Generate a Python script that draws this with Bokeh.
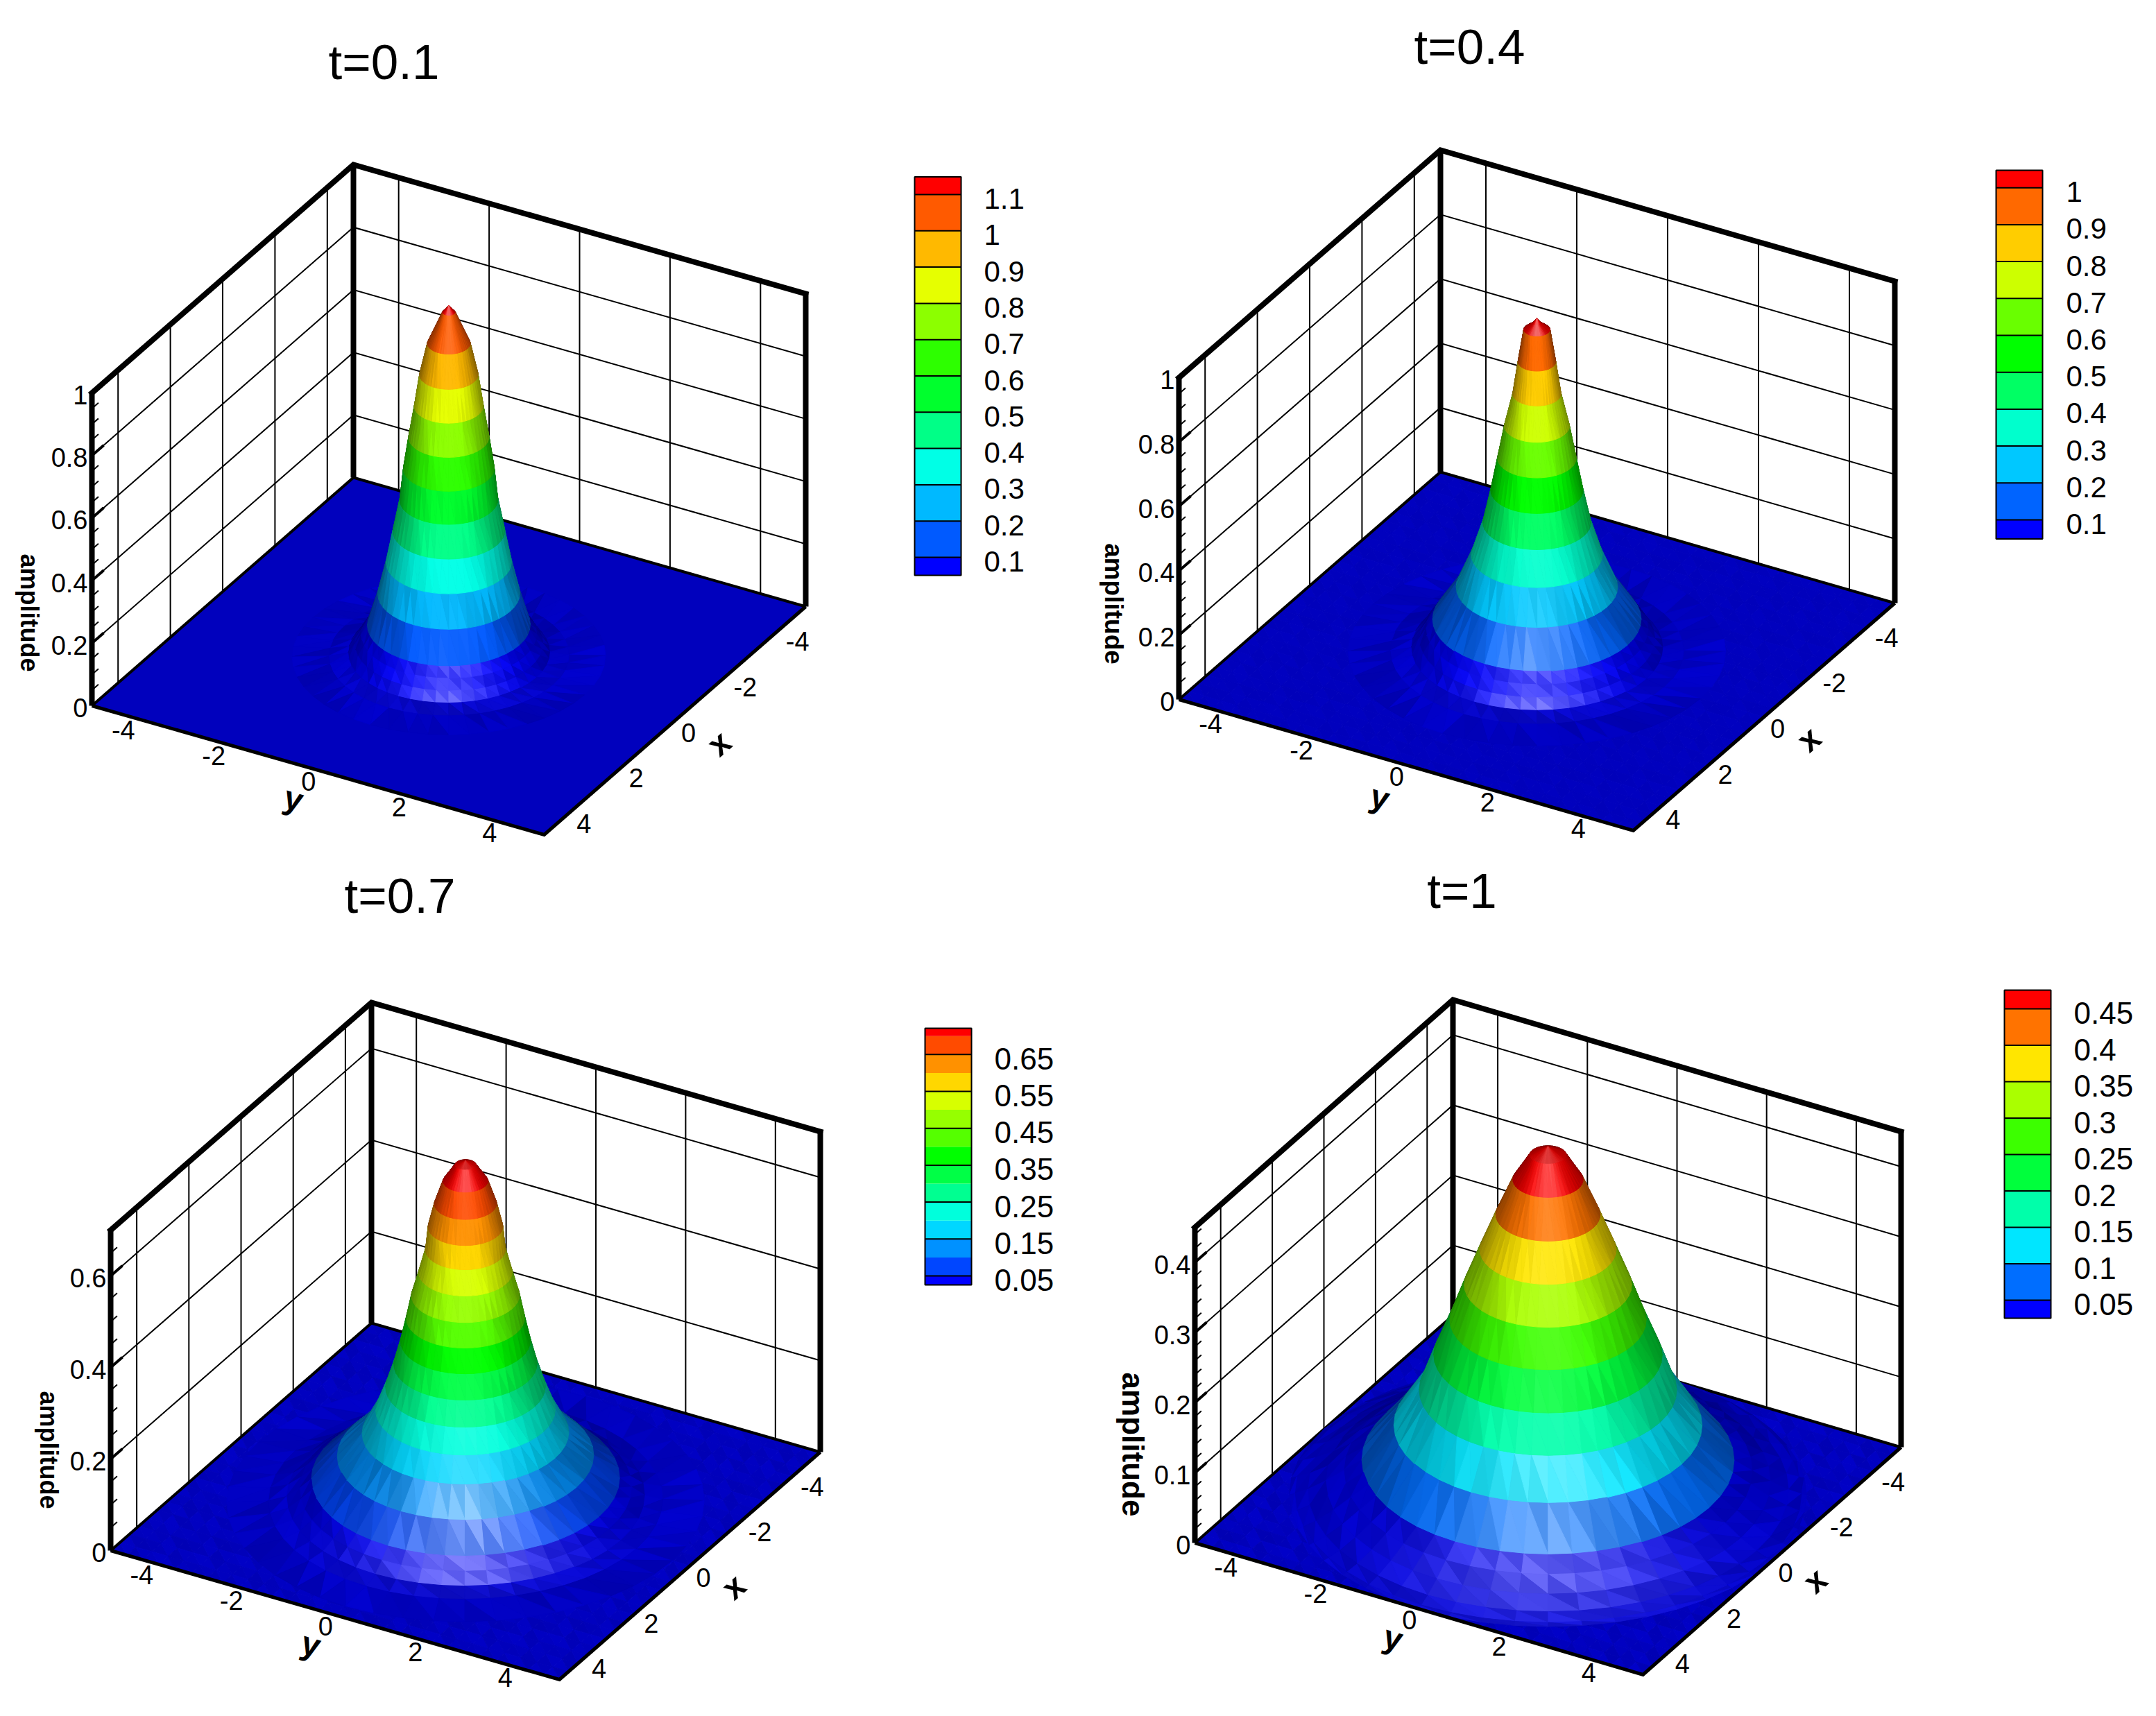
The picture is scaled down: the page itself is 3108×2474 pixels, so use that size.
import numpy as np
from bokeh.plotting import figure
from bokeh.models import Range1d
from bokeh.core.properties import value
from bokeh.embed import file_html
from bokeh.resources import INLINE

# ---------- values ----------
titles = ["t=0.1", "t=0.4", "t=0.7", "t=1"]
xy_ticks = [-4, -2, 0, 2, 4]

# surface profile: radius from centre and amplitude at that radius
t01_radius = [0, 0.12, 0.41, 0.56, 0.66, 0.77, 0.87, 0.94, 1.07, 1.20, 1.36, 1.56, 1.68, 1.80, 1.93, 2.30, 3.00]
t01_amp = [1.12, 1.10, 1.00, 0.90, 0.80, 0.70, 0.60, 0.50, 0.40, 0.30, 0.20, 0.10, 0.07, 0.04, 0.012, 0.002, 0.0]
t04_radius = [0, 0.08, 0.25, 0.36, 0.46, 0.62, 0.75, 0.88, 1.03, 1.25, 1.54, 1.99, 2.12, 2.25, 2.40, 2.80, 3.60]
t04_amp = [1.034, 1.02, 1.00, 0.90, 0.80, 0.70, 0.60, 0.50, 0.40, 0.30, 0.20, 0.10, 0.07, 0.04, 0.012, 0.002, 0.0]
t07_radius = [0, 0.20, 0.43, 0.60, 0.72, 0.77, 0.90, 1.04, 1.14, 1.25, 1.38, 1.54, 1.73, 1.99, 2.47, 2.97, 3.20, 3.45, 3.80, 4.60]
t07_amp = [0.744, 0.735, 0.70, 0.65, 0.60, 0.55, 0.50, 0.45, 0.40, 0.35, 0.30, 0.25, 0.20, 0.15, 0.10, 0.05, 0.03, 0.012, 0.003, 0.0]
t10_radius = [0, 0.35, 0.68, 1.01, 1.32, 1.62, 1.90, 2.21, 2.49, 2.98, 3.60, 3.95, 4.30, 4.65, 4.90, 5.00]
t10_amp = [0.497, 0.485, 0.45, 0.40, 0.35, 0.30, 0.25, 0.20, 0.15, 0.10, 0.05, 0.035, 0.02, 0.008, 0.002, 0.0]

# colour bar levels and colours (bottom to top)
t01_levels = [0.1, 0.2, 0.3, 0.4, 0.5, 0.6, 0.7, 0.8, 0.9, 1.0, 1.1]
t04_levels = [0.1, 0.2, 0.3, 0.4, 0.5, 0.6, 0.7, 0.8, 0.9, 1.0]
t07_levels = [0.05, 0.1, 0.15, 0.2, 0.25, 0.3, 0.35, 0.4, 0.45, 0.5, 0.55, 0.6, 0.65, 0.7]
t10_levels = [0.05, 0.1, 0.15, 0.2, 0.25, 0.3, 0.35, 0.4, 0.45]
t01_labels = ["0.1", "0.2", "0.3", "0.4", "0.5", "0.6", "0.7", "0.8", "0.9", "1", "1.1"]
t04_labels = ["0.1", "0.2", "0.3", "0.4", "0.5", "0.6", "0.7", "0.8", "0.9", "1"]
t07_labels = ["0.05", "0.15", "0.25", "0.35", "0.45", "0.55", "0.65"]
t10_labels = ["0.05", "0.1", "0.15", "0.2", "0.25", "0.3", "0.35", "0.4", "0.45"]
t01_colors = [(0,0,255),(0,90,255),(0,185,255),(0,255,230),(0,255,135),(0,255,45),(45,255,0),(140,255,0),(230,255,0),(255,185,0),(255,90,0),(255,0,0)]
t04_colors = [(0,0,255),(0,100,255),(0,200,255),(0,255,205),(0,255,100),(0,255,0),(105,255,0),(205,255,0),(255,205,0),(255,105,0),(255,0,0)]
t07_colors = [(0,0,255),(0,70,255),(0,145,255),(0,215,255),(0,255,220),(0,255,145),(0,255,70),(0,255,0),(85,255,0),(150,255,0),(215,255,0),(255,215,0),(255,145,0),(255,75,0),(255,0,0)]
t10_colors = [(0,0,255),(0,110,255),(0,230,255),(0,255,170),(0,255,60),(60,255,0),(170,255,0),(255,230,0),(255,115,0),(255,0,0)]

# amplitude axis
t01_zticks = [0, 0.2, 0.4, 0.6, 0.8, 1]
t04_zticks = [0, 0.2, 0.4, 0.6, 0.8, 1]
t07_zticks = [0, 0.2, 0.4, 0.6]
t10_zticks = [0, 0.1, 0.2, 0.3, 0.4]

# ---------- layout of each panel (page pixels) ----------
panels = [
    dict(title=titles[0], title_at=(553, 89), L=(132, 1017), B=(509, 688), R=(1161, 874), box=451, zmax=1.0, minor=0.05,
         r=t01_radius, a=t01_amp, levels=t01_levels, labels=t01_labels, colors=t01_colors, zticks=t01_zticks,
         bar=(1318, 1385, 254.5, 829, 803, 52.3, 0.1), bar_x=1418, bar_font=42, every=1, x_at=(1036, 1071), y_at=(423, 1151), amp_at=(42, 883), amp_size=36, mottle=0.0),
    dict(title=titles[1], title_at=(2118, 67), L=(1699, 1008), B=(2076, 680), R=(2731, 869), box=464, zmax=1.0, minor=0.05,
         r=t04_radius, a=t04_amp, levels=t04_levels, labels=t04_labels, colors=t04_colors, zticks=t04_zticks,
         bar=(2877, 2944, 245, 776.4, 749, 53.2, 0.1), bar_x=2978, bar_font=42, every=1, x_at=(2607, 1065), y_at=(1989, 1149), amp_at=(1605, 870), amp_size=37, mottle=0.2),
    dict(title=titles[2], title_at=(576, 1291), L=(159, 2235), B=(535, 1907), R=(1182, 2093), box=462, zmax=0.7, minor=0.05,
         r=t07_radius, a=t07_amp, levels=t07_levels, labels=t07_labels, colors=t07_colors, zticks=t07_zticks,
         bar=(1333, 1400, 1482, 1852, 1839, 26.6, 0.05), bar_x=1433, bar_font=44, every=2, x_at=(1057, 2287), y_at=(448, 2370), amp_at=(70, 2090), amp_size=36, mottle=0.55),
    dict(title=titles[3], title_at=(2107, 1284), L=(1722, 2224), B=(2094, 1896), R=(2740, 2086), box=455, zmax=0.45, minor=0.02,
         r=t10_radius, a=t10_amp, levels=t10_levels, labels=t10_labels, colors=t10_colors, zticks=t10_zticks,
         bar=(2889, 2956, 1427, 1900, 1874, 52.5, 0.05), bar_x=2989, bar_font=44, every=1, x_at=(2616, 2278), y_at=(2008, 2361), amp_at=(1633, 2082), amp_size=44, mottle=0.65),
]

FONT = value("Liberation Sans")
FLOOR = (0, 0, 255)
FRONT = np.array([0.866, 0.5])          # horizontal direction towards the viewer
VIEW = np.array([0.75, 0.433, 0.5])
SECTORS = 48
TINT = [0.02, -0.05, 0.07, -0.02, 0.04, -0.08, 0.01, 0.09, -0.04, 0.03, -0.06, 0.06, -0.01, 0.05, -0.07, 0.08, -0.03]

p = figure(width=3092, height=2458, x_range=Range1d(0, 3092), y_range=Range1d(2458, 0),
           toolbar_location=None, output_backend="svg", x_axis_location=None, y_axis_location=None,
           min_border=0, outline_line_color=None, background_fill_color="white")
p.grid.visible = False


def shade(rgb, n, tint=0.0):
    hx, hy, hz = 0.707 * FRONT[0], 0.707 * FRONT[1], 0.707
    toward = n[0] * FRONT[0] + n[1] * FRONT[1]
    lit = 0.5 * max(toward, 0.0) ** 1.6 + 0.4 * min(toward, 0.0)
    I = (0.5 + lit + 0.24 * n[2]) * (1 + tint)
    I = float(np.clip(I, 0.25, 1.0))
    spec = max(n[0] * hx + n[1] * hy + n[2] * hz, 0.0) ** 14 * 0.45 * (1 + 3 * tint)
    spec = float(np.clip(spec, 0, 0.6))
    c = [v * I for v in rgb]
    c = [v + (255 - v) * spec for v in c]
    return "#%02x%02x%02x" % tuple(int(round(v)) for v in c)


def draw_panel(cfg):
    L, B, R = (np.array(cfg[k], float) for k in "LBR")
    F = L + R - B
    C = (L + R) / 2
    ex, ey = (F - R) / 10, (F - L) / 10
    ez = np.array([0.0, -cfg["box"] / cfg["zmax"]])
    zs_world = cfg["box"] / cfg["zmax"] / 65.0

    def P(x, y, z=0.0):
        return C + np.asarray(x)[..., None] * ex + np.asarray(y)[..., None] * ey + np.asarray(z)[..., None] * ez

    def seg(points, width, cap="butt"):
        pts = np.array(points)
        p.line(pts[:, 0], pts[:, 1], line_color="black", line_width=width, line_cap=cap, line_join="miter")

    zmax = cfg["zmax"]
    # wall grid
    for v in xy_ticks:
        seg([P(v, -5, 0), P(v, -5, zmax)], 2)
        seg([P(-5, v, 0), P(-5, v, zmax)], 2)
    for z in cfg["zticks"]:
        if 0 < z < zmax:
            seg([P(5, -5, z), P(-5, -5, z), P(-5, 5, z)], 2)
    # thick frame
    seg([P(-5, -5, 0), P(-5, -5, zmax)], 8)
    seg([P(-5, 5, 0), P(-5, 5, zmax)], 8)
    seg([P(5, -5, zmax), P(-5, -5, zmax), P(-5, 5, zmax)], 8, "square")

    # floor
    xs, ys, fills = [], [], []
    cells = 28
    grid = np.linspace(-5, 5, cells + 1)
    flat = shade(FLOOR, (0, 0, 1))
    if cfg["mottle"] == 0:
        corners = np.array([P(5, -5), P(-5, -5), P(-5, 5), P(5, 5)])
        xs.append(corners[:, 0]); ys.append(corners[:, 1]); fills.append(flat)
    else:
        for i in range(cells):
            for j in range(cells):
                q = [P(grid[i], grid[j]), P(grid[i + 1], grid[j]), P(grid[i + 1], grid[j + 1]), P(grid[i], grid[j + 1])]
                for k, tri in enumerate(([q[0], q[1], q[2]], [q[0], q[2], q[3]])):
                    t = np.array(tri)
                    xs.append(t[:, 0]); ys.append(t[:, 1])
                    fills.append(shade(FLOOR, (0, 0, 1), TINT[(i * 5 + j * 11 + k * 3) % len(TINT)] * cfg["mottle"]))
    p.patches(xs, ys, fill_color=fills, line_color=fills, line_width=1)
    seg([P(5, -5), P(-5, -5), P(-5, 5)], 4)

    # surface: one ring of facets per profile step, coloured by contour band
    r = np.array(cfg["r"], float)
    a = np.array(cfg["a"], float)
    levels = np.array(cfg["levels"], float)
    theta = np.linspace(0, 2 * np.pi, SECTORS + 1)
    facets = []
    for i in range(len(r) - 1):
        band = cfg["colors"][int(np.searchsorted(levels, (a[i] + a[i + 1]) / 2))]
        for j in range(SECTORS):
            p00 = (r[i] * np.cos(theta[j]), r[i] * np.sin(theta[j]), a[i])
            p01 = (r[i] * np.cos(theta[j + 1]), r[i] * np.sin(theta[j + 1]), a[i])
            p10 = (r[i + 1] * np.cos(theta[j]), r[i + 1] * np.sin(theta[j]), a[i + 1])
            p11 = (r[i + 1] * np.cos(theta[j + 1]), r[i + 1] * np.sin(theta[j + 1]), a[i + 1])
            for k, tri in enumerate(((p00, p10, p11), (p00, p11, p01))):
                w = np.array(tri, float)
                w3 = w * np.array([1, 1, zs_world])
                n = np.cross(w3[1] - w3[0], w3[2] - w3[0])
                ln = np.linalg.norm(n)
                if ln < 1e-9:
                    continue
                n = n / ln
                if n[2] < 0:
                    n = -n
                depth = float(w3.mean(axis=0) @ VIEW)
                lift = min(1.0, 0.45 + 1.5 * (a[i + 1] < levels[2]))
                tint = TINT[(i * 7 + j * 13 + k * 5) % len(TINT)] * lift
                scr = P(w[:, 0], w[:, 1], w[:, 2])
                facets.append((depth, scr[:, 0], scr[:, 1], shade(band, n, tint)))
    facets.sort(key=lambda f: f[0])
    cols = [f[3] for f in facets]
    p.patches([f[1] for f in facets], [f[2] for f in facets], fill_color=cols, line_color=cols, line_width=1)

    # front frame and amplitude axis
    seg([P(5, -5), P(5, 5), P(-5, 5)], 5)
    seg([P(5, -5, 0), P(5, -5, zmax)], 8)
    zmin = np.arange(0, zmax + 1e-6, cfg["minor"])
    for z in zmin:
        seg([P(5, -5, z), P(4.75, -5, z)], 2)
    for z in cfg["zticks"]:
        if 0 < z <= zmax:
            seg([P(5, -5, z), P(4.55, -5, z)], 4)

    # tick labels
    ypos = P(np.full(5, 5.0), np.array(xy_ticks, float))
    p.text(ypos[:, 0] - 3, ypos[:, 1] + 16, text=[str(v) for v in xy_ticks], text_font=FONT, text_font_size="38px",
           text_align="right", text_baseline="middle", text_color="black")
    xpos = P(np.array(xy_ticks, float), np.full(5, 5.0))
    p.text(xpos[:, 0] + 9, xpos[:, 1] + 17, text=[str(v) for v in xy_ticks], text_font=FONT, text_font_size="38px",
           text_align="left", text_baseline="middle", text_color="black")
    zt = np.array(cfg["zticks"], float)
    zpos = P(np.full(len(zt), 5.0), np.full(len(zt), -5.0), zt)
    p.text(zpos[:, 0] - 6, zpos[:, 1] + 3, text=["%g" % v for v in zt], text_font=FONT, text_font_size="38px",
           text_align="right", text_baseline="middle", text_color="black")

    # axis titles and panel title
    p.text([cfg["x_at"][0]], [cfg["x_at"][1]], text=["x"], angle=41, angle_units="deg", text_font=FONT,
           text_font_style="bold", text_font_size="48px", text_align="center", text_baseline="middle")
    p.text([cfg["y_at"][0]], [cfg["y_at"][1]], text=["y"], angle=-16, angle_units="deg", text_font=FONT,
           text_font_style="bold", text_font_size="48px", text_align="center", text_baseline="middle")
    p.text([cfg["amp_at"][0]], [cfg["amp_at"][1]], text=["amplitude"], angle=-90, angle_units="deg", text_font=FONT,
           text_font_style="bold", text_font_size="%dpx" % cfg["amp_size"], text_align="center", text_baseline="middle")
    p.text([cfg["title_at"][0]], [cfg["title_at"][1]], text=[cfg["title"]], text_font=FONT, text_font_size="71px",
           text_align="center", text_baseline="middle")

    # colour bar
    x0, x1, top, bottom, y_first, step, dv = cfg["bar"]
    lv = np.array(cfg["levels"], float)
    lv_y = y_first - (lv - lv[0]) / dv * step
    edges = np.concatenate(([bottom], lv_y, [top]))
    hexes = ["#%02x%02x%02x" % c for c in cfg["colors"]]
    p.quad(left=x0, right=x1, bottom=edges[:-1], top=edges[1:], fill_color=hexes, line_color=None)
    every = cfg["every"]
    p.segment(x0=np.full(len(lv_y[::every]), x0), x1=np.full(len(lv_y[::every]), x1), y0=lv_y[::every], y1=lv_y[::every],
              line_color="black", line_width=2)
    p.quad(left=[x0], right=[x1], bottom=[bottom], top=[top], fill_color=None, line_color="black", line_width=2)
    p.text(np.full(len(cfg["labels"]), cfg["bar_x"]), lv_y[::every] + 6, text=cfg["labels"], text_font=FONT,
           text_font_size="%dpx" % cfg["bar_font"], text_align="left", text_baseline="middle")


for cfg in panels:
    draw_panel(cfg)

open("out.html", "w").write(file_html(p, INLINE))
